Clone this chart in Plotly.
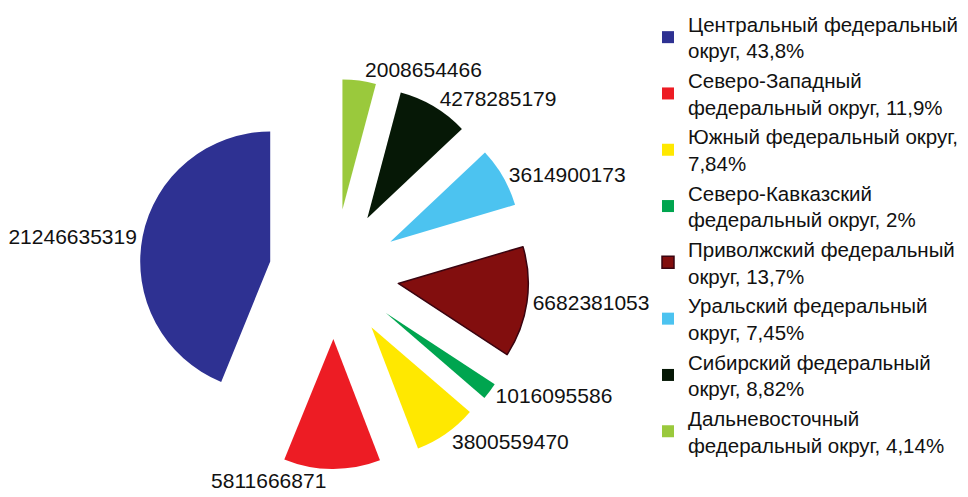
import plotly.graph_objects as go

# Data
districts = [
    "Центральный федеральный<br>округ, 43,8%",
    "Северо-Западный<br>федеральный округ, 11,9%",
    "Южный федеральный округ,<br>7,84%",
    "Северо-Кавказский<br>федеральный округ, 2%",
    "Приволжский федеральный<br>округ, 13,7%",
    "Уральский федеральный<br>округ, 7,45%",
    "Сибирский федеральный<br>округ, 8,82%",
    "Дальневосточный<br>федеральный округ, 4,14%",
]
values = [21246635319, 5811666871, 3800559470, 1016095586,
          6682381053, 3614900173, 4278285179, 2008654466]
value_labels = [str(v) for v in values]

colors = ["#2E3192", "#ED1C24", "#FFE800", "#00A54F",
          "#820E0E", "#4CC3F0", "#061806", "#9AC93C"]
line_colors = ["#2E3192", "#ED1C24", "#FFE800", "#00A54F",
               "#3A0410", "#4CC3F0", "#061806", "#9AC93C"]
line_widths = [0, 0, 0, 0, 1.5, 0, 0, 0]

# first slice's clockwise edge at 12 o'clock, slices running counterclockwise
first_share = values[0] / sum(values)
rotation = -360 * first_share

W, H = 968, 497
cx, cy, ext = 326, 266, 195

fig = go.Figure(go.Pie(
    labels=districts,
    values=values,
    text=value_labels,
    textinfo="text",
    textposition="outside",
    outsidetextfont=dict(family="Liberation Sans, Arial, sans-serif", size=21, color="#111111"),
    sort=False,
    direction="counterclockwise",
    rotation=rotation,
    pull=0.5,
    marker=dict(colors=colors, line=dict(color=line_colors, width=line_widths)),
    hoverinfo="label+value",
    domain=dict(x=[(cx - ext) / W, (cx + ext) / W],
                y=[1 - (cy + ext) / H, 1 - (cy - ext) / H]),
))

fig.update_layout(
    width=W, height=H,
    margin=dict(l=0, r=0, t=0, b=0, autoexpand=False),
    paper_bgcolor="white",
    plot_bgcolor="white",
    font=dict(family="Liberation Sans, Arial, sans-serif", size=20.5, color="#111111"),
    showlegend=True,
    legend=dict(
        x=640 / W, xanchor="left",
        y=1 + 4 / H, yanchor="top",
        maxheight=540,
        font=dict(size=20.5, color="#111111"),
        bgcolor="rgba(0,0,0,0)",
        itemclick=False,
    ),
)

fig.write_html("out.html")
